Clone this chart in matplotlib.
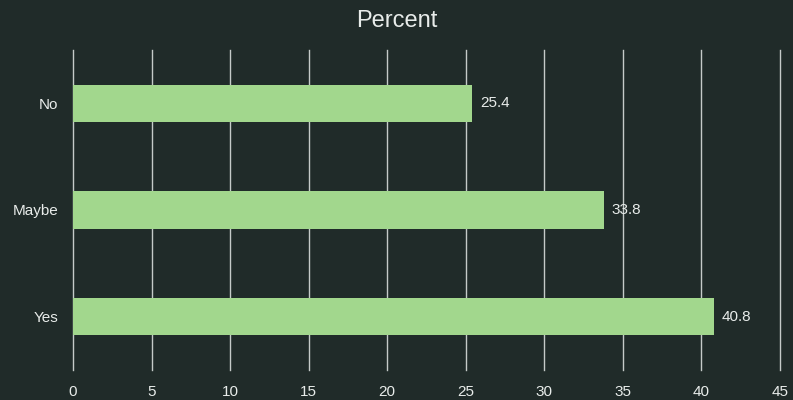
import matplotlib
matplotlib.use("Agg")
import matplotlib.pyplot as plt

categories = ["Yes", "Maybe", "No"]
percent = [40.8, 33.8, 25.4]
xticks = [0, 5, 10, 15, 20, 25, 30, 35, 40, 45]

BG = "#202b29"
BAR = "#a2d78d"
FG = "#e8ecea"

plt.rcParams["font.family"] = ["Liberation Sans", "DejaVu Sans"]

fig = plt.figure(figsize=(7.93, 4.0), dpi=100, facecolor=BG)
ax = fig.add_axes([73 / 793, 30 / 400, 707 / 793, 320 / 400], facecolor=BG)

pos = range(len(categories))
ax.barh(pos, percent, height=0.35, color=BAR, zorder=2)
for y, v in zip(pos, percent):
    ax.text(v + 0.5, y, f"{v}", va="center", ha="left", color=FG, fontsize=11, zorder=3)

ax.set_xlim(0, 45)
ax.set_ylim(-0.5, 2.5)
ax.set_yticks(list(pos))
ax.set_yticklabels(categories)
ax.set_xticks(xticks)
ax.set_axisbelow(True)
for x in xticks:
    ax.axvline(x, color="#c4cac8", lw=1, zorder=1, clip_on=False)
ax.tick_params(length=0, colors=FG, labelsize=11, pad=10.5)
ax.tick_params(axis="x", pad=11)
for sp in ax.spines.values():
    sp.set_visible(False)

fig.text(0.5, 1 - 27 / 400, "Percent", color=FG, fontsize=17, ha="center", va="baseline")

fig.savefig("out.png", dpi=100, facecolor=BG)
